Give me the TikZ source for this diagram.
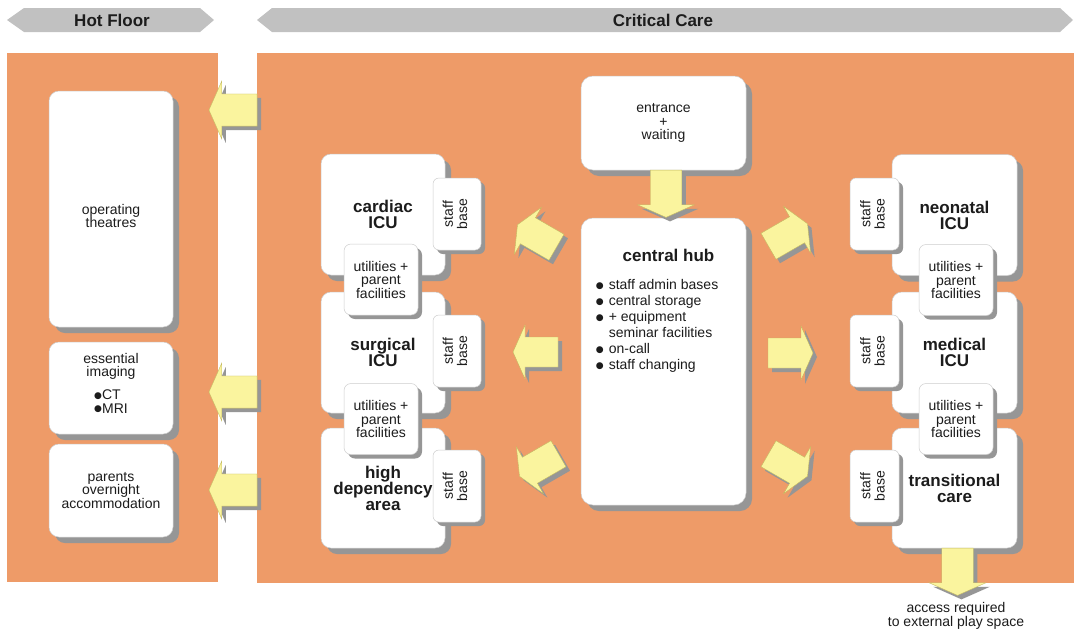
\documentclass[tikz,border=0pt]{standalone}
\usepackage{fontspec}
\setmainfont{Liberation Sans}
\newfontfamily\symbolfont{DejaVu Sans}
\usepackage{graphicx}
\usetikzlibrary{calc,shadows}

\definecolor{panelorange}{RGB}{238,155,104}
\definecolor{bannergray}{RGB}{193,193,193}
\definecolor{shadowgray}{RGB}{150,150,150}
\definecolor{arrowyellow}{RGB}{250,244,158}
\definecolor{arrowedge}{RGB}{196,186,96}
\definecolor{boxedge}{RGB}{205,205,205}
\definecolor{inkgray}{RGB}{28,28,28}

\newcommand{\fsz}[2]{\fontsize{#1}{#2}\selectfont}
\newcommand{\bul}{\raisebox{1.6pt}{\symbolfont\fontsize{9}{9}\selectfont ●}}

\tikzset{
  room/.style={draw=boxedge, line width=0.5pt, fill=white, inner sep=0pt,
    align=center, text=inkgray, font=\fsz{14}{13.5}},
  shadowbig/.style={drop shadow={shadow xshift=6pt, shadow yshift=-6pt, fill=shadowgray, opacity=1}},
  shadowsmall/.style={drop shadow={shadow xshift=4pt, shadow yshift=-4pt, fill=shadowgray, opacity=1}},
  bigroom/.style={room, shadowbig, rounded corners=10pt},
  unit/.style={room, shadowbig, rounded corners=10pt, minimum width=124pt,
    minimum height=121pt, font=\fsz{17}{16}\bfseries},
  staffbox/.style={room, shadowsmall, rounded corners=6pt, minimum width=48pt, minimum height=72pt},
  utilbox/.style={room, shadowsmall, rounded corners=7pt, minimum width=74pt, minimum height=71pt},
  label/.style={text=inkgray, align=center, font=\fsz{14}{13.5}, inner sep=0pt},
  heading/.style={text=inkgray, font=\fsz{17}{17}\bfseries, inner sep=0pt},
  pics/blockarrow/.style={code={
    \path[pic actions] (22.5,0) -- (10.5,27) -- (10.5,15) -- (-22.5,15)
      -- (-22.5,-15) -- (10.5,-15) -- (10.5,-27) -- cycle;
  }},
}

% block arrow with its shadow: #1 centre, #2 direction angle, #3 scale
\newcommand{\flowarrow}[3]{%
  \pic[fill=shadowgray, rotate=#2, scale=#3] at ($(#1)+(4,4)$) {blockarrow};
  \pic[fill=arrowyellow, draw=arrowedge, line width=0.4pt, rotate=#2, scale=#3] at (#1) {blockarrow};
}
\newcommand{\staffbase}{\rotatebox{90}{\begin{tabular}{@{}c@{}}staff\\base\end{tabular}}}

\begin{document}
\begin{tikzpicture}[x=1pt, y=-1pt]
\useasboundingbox (0,0) rectangle (1074,635);
\fill[white] (0,0) rectangle (1074,635);

% zone banners
\fill[bannergray] (7,20) -- (24,8) -- (200,8) -- (214,20) -- (200,32) -- (24,32) -- cycle;
\node[heading] (hotlbl) at (112,20) {Hot Floor};
\fill[bannergray] (257,20) -- (272,8) -- (1060,8) -- (1073,20) -- (1060,32) -- (272,32) -- cycle;
\node[heading] (critlbl) at (663,20) {Critical Care};

% zone panels
\fill[panelorange] (7,53) rectangle (218,582);
\fill[panelorange] (257,53) rectangle (1074,583);

% hot floor rooms
\node[bigroom, minimum width=124pt, minimum height=236pt] (ot) at (111,209) {};
\node[label] (otlbl) at ($(ot.center)+(0,7)$) {operating\\theatres};
\node[bigroom, minimum width=124pt, minimum height=92pt] (img) at (111,388)
  {essential\\imaging\\[9pt]\begin{tabular}{@{}l@{}}\bul CT\\\bul MRI\end{tabular}\\[2pt]\mbox{}};
\node[bigroom, minimum width=124pt, minimum height=93pt] (par) at (111,490.5)
  {parents\\overnight\\accommodation};

% links to the hot floor
\coordinate (toOT) at (233,110);
\coordinate (toImg) at (233,392);
\coordinate (toPar) at (233,490);
\flowarrow{toOT}{180}{1.07}
\flowarrow{toImg}{180}{1.07}
\flowarrow{toPar}{180}{1.07}

% central spine
\node[bigroom, rounded corners=12pt, minimum width=165pt, minimum height=94pt] (ent) at (663.5,123)
  {entrance\\+\\waiting};
\node[bigroom, rounded corners=12pt, minimum width=165pt, minimum height=287pt] (hub) at (663.5,361.5) {};
\node[heading] (hubtitle) at ($(hub.north)+(5,38)$) {central hub};
\node[label, anchor=west, font=\fsz{14}{16}] (hublist) at ($(hub.north west)+(15,109)$)
  {\begin{tabular}{@{}l@{\hspace{5pt}}l@{}}
   \bul & staff admin bases\\
   \bul & central storage\\
   \bul & + equipment\\
        & seminar facilities\\
   \bul & on-call\\
   \bul & staff changing
   \end{tabular}};

% left wing units
\node[unit] (cic) at (383,214.5) {cardiac\\ICU};
\node[unit] (sic) at (383,352.5) {surgical\\ICU};
\node[unit, minimum height=120pt] (hda) at (383,488) {high\\dependency\\area};
\node[staffbox] (sbC) at (457,214) {\staffbase};
\node[staffbox] (sbS) at (457,351) {\staffbase};
\node[staffbox] (sbH) at (457,486) {\staffbase};
\node[utilbox] (utC) at (381,279.5) {utilities +\\parent\\facilities};
\node[utilbox] (utS) at (381,419) {utilities +\\parent\\facilities};

% right wing units
\node[unit, minimum width=125pt] (nic) at (954.5,215) {neonatal\\ICU};
\node[unit, minimum width=125pt] (mic) at (954.5,352.5) {medical\\ICU};
\node[unit, minimum width=125pt, minimum height=120pt] (tc) at (954.5,488) {transitional\\care};
\node[staffbox, minimum width=49pt] (sbN) at (874.5,214) {\staffbase};
\node[staffbox, minimum width=49pt] (sbM) at (874.5,351) {\staffbase};
\node[staffbox, minimum width=49pt] (sbT) at (874.5,486) {\staffbase};
\node[utilbox] (utN) at (956,280) {utilities +\\parent\\facilities};
\node[utilbox] (utM) at (956,419) {utilities +\\parent\\facilities};

% flows out of the hub
\coordinate (entHub) at ($(ent.south)+(2.5,23.5)$);
\coordinate (hubCIC) at (537,236);
\coordinate (hubSIC) at (535.5,352);
\coordinate (hubHDA) at (539,465);
\coordinate (hubNIC) at (788,235);
\coordinate (hubMIC) at (790.5,353);
\coordinate (hubTC) at (788,465);
\coordinate (tcOut) at ($(tc.south)+(3,23.5)$);
\flowarrow{entHub}{-90}{1.05}
\flowarrow{hubCIC}{150}{1}
\flowarrow{hubSIC}{180}{1}
\flowarrow{hubHDA}{210}{1}
\flowarrow{hubNIC}{30}{1}
\flowarrow{hubMIC}{0}{1}
\flowarrow{hubTC}{-30}{1}
\flowarrow{tcOut}{-90}{1.05}

\node[label, font=\fsz{14}{12.5}] (playlbl) at (956,616) {access required\\to external play space};
\end{tikzpicture}
\end{document}
